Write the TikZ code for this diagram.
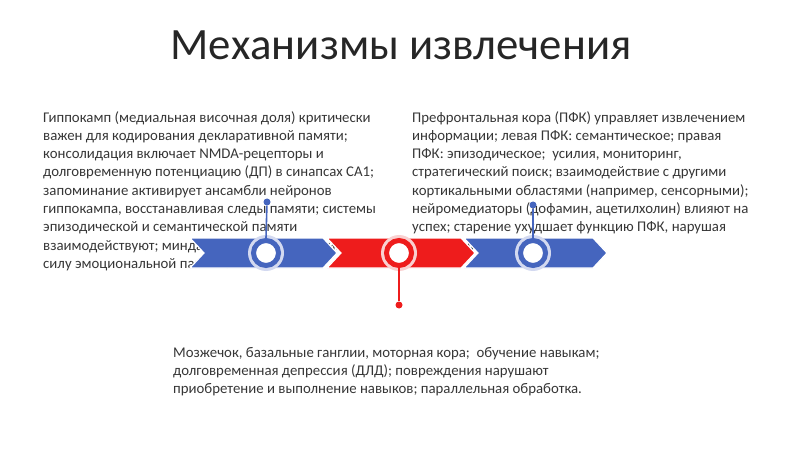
\documentclass[tikz,border=0pt]{standalone}
\usepackage{fontspec}
\setmainfont{Carlito}
\definecolor{txt}{HTML}{363636}
\definecolor{bl}{HTML}{4565BE}
\definecolor{blhalo}{HTML}{D3D9F0}
\definecolor{rd}{HTML}{EE1C1C}
\definecolor{rdhalo}{HTML}{F9D0D0}
\begin{document}
\begin{tikzpicture}[x=1pt,y=-1pt,
  body/.style={anchor=north west,inner sep=0pt,align=left,text=txt,font=\fontsize{14.8}{18.3}\selectfont},
  chev/.style={draw=white,line width=1.2pt},
  ring/.style={circle,minimum size=25pt,inner sep=0pt,line width=5pt,fill=white},
  dotnode/.style={circle,minimum size=7pt,inner sep=0pt},
  conn/.style={line width=1.6pt}]
\useasboundingbox (0,0) rectangle (800,449);
\node[text=black!85,font=\fontsize{44.8}{50}\selectfont] (title) at (401,45) {Механизмы извлечения};

\node[body] (left) at (43,111) {Гиппокамп (медиальная височная доля) критически\\
важен для кодирования декларативной памяти;\\
консолидация включает NMDA-рецепторы и\\
долговременную потенциацию (ДП) в синапсах CA1;\\
запоминание активирует ансамбли нейронов\\
гиппокампа, восстанавливая следы памяти; системы\\
эпизодической и семантической памяти\\
взаимодействуют; миндалевидное тело усиливает\\
силу эмоциональной памяти.};

\node[body] (right) at (412,111) {Префронтальная кора (ПФК) управляет извлечением\\
информации; левая ПФК: семантическое; правая\\
ПФК: эпизодическое;\ \ усилия, мониторинг,\\
стратегический поиск; взаимодействие с другими\\
кортикальными областями (например, сенсорными);\\
нейромедиаторы (дофамин, ацетилхолин) влияют на\\
успех; старение ухудшает функцию ПФК, нарушая\\
извлечение.};

\node[body] (bottom) at (173,347) {Мозжечок, базальные ганглии, моторная кора;\ \ обучение навыкам;\\
долговременная депрессия (ДЛД); повреждения нарушают\\
приобретение и выполнение навыков; параллельная обработка.};

% chevrons
\fill[bl,chev] (190,238) -- (323,238) -- (337,253) -- (323,268) -- (190,268) -- (204,253) -- cycle;
\fill[rd,chev] (327,238) -- (461,238) -- (475,253) -- (461,268) -- (327,268) -- (341,253) -- cycle;
\fill[bl,chev] (464,238) -- (593,238) -- (607,253) -- (593,268) -- (464,268) -- (478,253) -- cycle;

% dots
\node[dotnode,fill=bl] (d1) at (267,202) {};
\node[dotnode,fill=rd] (d2) at (399,305) {};
\node[dotnode,fill=bl] (d3) at (533,205) {};

% halos and rings
\fill[blhalo] (266,253) circle (18);
\fill[rdhalo] (399,253) circle (18);
\fill[blhalo] (533,253) circle (18);
\node[ring,draw=bl] (c1) at (266,253) {};
\node[ring,draw=rd] (c2) at (399,253) {};
\node[ring,draw=bl] (c3) at (533,253) {};

\draw[conn,bl] (d1) -- (c1.north);
\draw[conn,rd] (d2) -- (c2.south);
\draw[conn,bl] (d3) -- (c3.north);
\end{tikzpicture}
\end{document}
